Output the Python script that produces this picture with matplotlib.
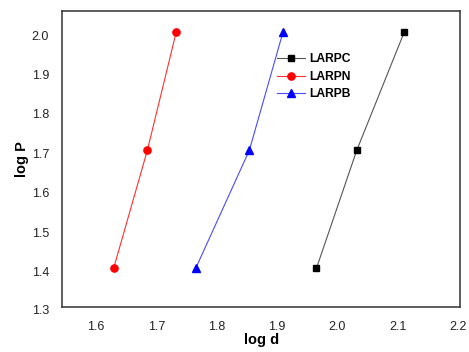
import matplotlib
matplotlib.use("Agg")
import matplotlib.pyplot as plt
from matplotlib.transforms import blended_transform_factory

plt.rcParams['font.family'] = ['Liberation Sans', 'DejaVu Sans']

log_p = [1.408, 1.708, 2.009]
larpc_d = [1.965, 2.032, 2.111]
larpn_d = [1.629, 1.685, 1.733]
larpb_d = [1.765, 1.854, 1.910]

x_ticks = [1.6, 1.7, 1.8, 1.9, 2.0, 2.1, 2.2]
y_ticks = [1.4, 1.5, 1.6, 1.7, 1.8, 1.9, 2.0]

W, H = 469, 352
fig = plt.figure(figsize=(W / 100, H / 100), dpi=100)
ax = fig.add_axes([62.3 / W, 1 - 306.7 / H, (460 - 62.3) / W, (306.7 - 11) / H])

ax.plot(larpc_d, log_p, color='#555555', lw=0.8, marker='s', ms=4.5,
        mfc='black', mec='black', label='LARPC')
ax.plot(larpn_d, log_p, color='#ff3030', lw=0.8, marker='o', ms=5.2,
        mfc='red', mec='red', label='LARPN')
ax.plot(larpb_d, log_p, color='#4a4aff', lw=0.8, marker='^', ms=5.5,
        mfc='blue', mec='blue', label='LARPB')

ax.set_xlim(1.544, 2.203)
ax.set_ylim(1.311, 2.061)
ax.set_xticks(x_ticks)
ax.set_xticklabels([f"{v:.1f}" for v in x_ticks])
ax.set_yticks(y_ticks)
ax.set_yticklabels([f"{v:.1f}" for v in y_ticks])
ax.tick_params(length=0, labelsize=9, colors='#222222', pad=9.5)
ax.tick_params(axis='x', pad=10)
# 1.3 label sits just below the frame
tr = blended_transform_factory(ax.transAxes, ax.transData)
ax.text(-13 / (460 - 62.3), 1.3, "1.3", transform=tr, ha='right', va='center',
        fontsize=9, color='#222222', clip_on=False)

for s in ax.spines.values():
    s.set_color('#333333')
    s.set_linewidth(1.1)

ax.set_xlabel('log d', fontsize=10.5, fontweight='bold', labelpad=0.5)
ax.set_ylabel('log P', fontsize=10.5, fontweight='bold', labelpad=2)

leg = ax.legend(loc='upper left', bbox_to_anchor=(277 / W, 1 - 53.5 / H),
                bbox_transform=fig.transFigure, frameon=False,
                prop={'weight': 'bold', 'size': 8.7}, handlelength=2.3,
                handletextpad=0.4, borderpad=0, borderaxespad=0,
                labelspacing=0.45)

fig.savefig('out.png', dpi=100)
